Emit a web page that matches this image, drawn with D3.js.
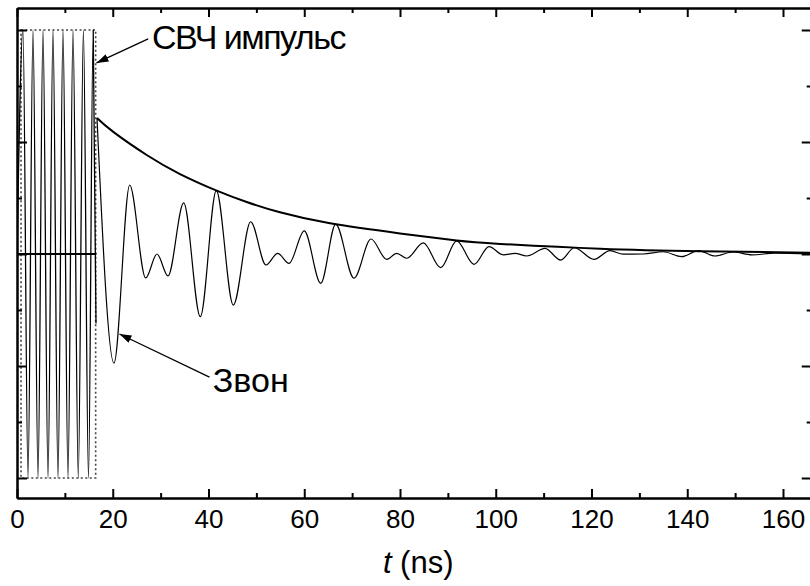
<!DOCTYPE html>
<html>
<head>
<meta charset="utf-8">
<script src="https://cdn.jsdelivr.net/npm/d3@7"></script>
<style>
  body { margin: 0; background: #fff; }
  svg { display: block; font-family: "Liberation Sans", Arial, sans-serif; }
</style>
</head>
<body>
<div id="chart"></div>
<script>
// microwave pulse + ringing, t in ns, amplitude normalised

// x ticks
const xMajor = [0, 20, 40, 60, 80, 100, 120, 140, 160];
const xMinor = [10, 30, 50, 70, 90, 110, 130, 150];
// y ticks (no labels)
const yMajor = [-1, -0.5, 0, 0.5, 1];
const yMinor = [-0.75, -0.25, 0.25, 0.75];

// pulse: peaks / troughs
const pulseT = [0, 1.25, 2.30, 3.34, 4.39, 5.43, 6.48, 7.52, 8.56, 9.61, 10.65, 11.70, 12.80, 13.87, 14.93, 15.92, 16.50];
const pulseV = [0, 1, -1, 1, -1, 1, -1, 1, -1, 1, -1, 1, -1, 1, -1, 1, -0.31];

// ringing after the pulse: extrema
const ringT = [16.71, 20.26, 23.54, 26.88, 29.24, 31.54, 34.82, 38.29, 41.63, 45.18, 48.81, 52.01, 54.45, 56.81,
  60.01, 63.44, 66.57, 70.39, 73.94, 77.22, 79.31, 81.4, 84.87, 88.5, 91.84, 95.46, 98.59, 101.58, 104.02,
  106.46, 110.29, 113.57, 116.41, 120.52, 123.86, 126.64, 130.76, 135.0, 138.84, 142.31, 145.8, 149.55,
  153.5, 158.3, 166];
const ringV = [0.607, -0.487, 0.308, -0.107, 0.0, -0.098, 0.228, -0.280, 0.283, -0.228, 0.144, -0.049, 0.003, -0.042,
  0.103, -0.131, 0.133, -0.108, 0.067, -0.024, 0.003, -0.019, 0.050, -0.061, 0.059, -0.046, 0.033, -0.004, 0.003,
  -0.009, 0.025, -0.027, 0.028, -0.024, 0.015, -0.001, 0.0, 0.010, -0.012, 0.015, -0.009, 0.009,
  -0.004, 0.004, 0];

// envelope (thick line): flat baseline during the pulse, then decay
const envBaseT = [0, 16.6];
const envBaseV = [0, 0];
const envT = [16.71, 20.11, 27.09, 34.05, 41.71, 47.98, 54.93, 65.38, 80.0, 91.84, 100.9, 121.8, 142.7, 166];
const envV = [0.607, 0.545, 0.442, 0.357, 0.283, 0.232, 0.186, 0.137, 0.092, 0.060, 0.045, 0.023, 0.012, 0.006];

// dotted box round the pulse
const boxT = [0.84, 16.43];
const boxV = [-1, 1];

// annotations
const labels = [
  {text: "СВЧ импульс", t: 28.2, v: 0.915, ls: -1.5, from: [27.4, 0.96], to: [16.6, 0.853]},
  {text: "Звон", t: 40.9, v: -0.616, ls: 0, from: [40.2, -0.55], to: [21.4, -0.357]}
];

const W = 810, H = 586;
const pLeft = 17, pTop = 8, pBottom = 498;
const pxPerNs = (783 - 17) / 160;

const x = d3.scaleLinear().domain([0, 166]).range([pLeft, pLeft + 166 * pxPerNs]);
const y = d3.scaleLinear().domain([-1, 1]).range([478, 30]);
const yTopV = y.invert(pTop), yBotV = y.invert(pBottom);
const pRight = x(166);

const svg = d3.select("#chart").append("svg")
  .attr("width", W).attr("height", H);

svg.append("rect").attr("width", W).attr("height", H).attr("fill", "#fff");

const defs = svg.append("defs");
defs.append("clipPath").attr("id", "clip")
  .append("rect").attr("x", pLeft).attr("y", pTop)
  .attr("width", pRight - pLeft).attr("height", pBottom - pTop);
defs.append("marker")
  .attr("id", "arrow")
  .attr("viewBox", "0 0 12 8")
  .attr("refX", 12).attr("refY", 4)
  .attr("markerWidth", 12).attr("markerHeight", 8)
  .attr("markerUnits", "userSpaceOnUse")
  .attr("orient", "auto")
  .append("path").attr("d", "M0,0 L12,4 L0,8 Z").attr("fill", "#000");

const plot = svg.append("g").attr("clip-path", "url(#clip)");

const zip = (ts, vs) => ts.map((t, i) => [t, vs[i]]);
const line = d3.line().x(d => x(d[0])).y(d => y(d[1]));

// dotted box
plot.append("rect")
  .attr("x", x(boxT[0])).attr("y", y(boxV[1]))
  .attr("width", x(boxT[1]) - x(boxT[0]))
  .attr("height", y(boxV[0]) - y(boxV[1]))
  .attr("fill", "none")
  .attr("stroke", "#444")
  .attr("stroke-width", 1.6)
  .attr("stroke-dasharray", "2,2.5");

// pulse
plot.append("path")
  .datum(zip(pulseT, pulseV))
  .attr("d", line.curve(d3.curveMonotoneX))
  .attr("fill", "none").attr("stroke", "#000").attr("stroke-width", 1.3);

// ringing
plot.append("path")
  .datum(zip(ringT, ringV))
  .attr("d", line.curve(d3.curveMonotoneX))
  .attr("fill", "none").attr("stroke", "#000").attr("stroke-width", 1.2);

// envelope
plot.append("path")
  .datum(zip(envBaseT, envBaseV))
  .attr("d", line.curve(d3.curveLinear))
  .attr("fill", "none").attr("stroke", "#000").attr("stroke-width", 2);
plot.append("path")
  .datum(zip(envT, envV))
  .attr("d", line.curve(d3.curveNatural))
  .attr("fill", "none").attr("stroke", "#000").attr("stroke-width", 2);

// axes, ticks pointing inward
function styleAxis(g) {
  g.selectAll(".domain").attr("stroke", "#000").attr("stroke-width", 2);
  g.selectAll(".tick line").attr("stroke", "#000").attr("stroke-width", 2);
}

svg.append("g")
  .attr("transform", `translate(0,${pBottom})`)
  .call(d3.axisBottom(x).tickValues(xMajor).tickSizeInner(-9).tickSizeOuter(0).tickPadding(12))
  .call(styleAxis)
  .call(g => g.selectAll("text").attr("font-size", 26).attr("fill", "#000")
    .attr("font-family", "Liberation Sans, Arial, sans-serif"));
svg.append("g")
  .attr("transform", `translate(0,${pBottom})`)
  .call(d3.axisBottom(x).tickValues(xMinor).tickSizeInner(-5).tickSizeOuter(0).tickFormat(""))
  .call(styleAxis);

svg.append("g")
  .attr("transform", `translate(0,${pTop})`)
  .call(d3.axisTop(x).tickValues(xMajor).tickSizeInner(-9).tickSizeOuter(0).tickFormat(""))
  .call(styleAxis);
svg.append("g")
  .attr("transform", `translate(0,${pTop})`)
  .call(d3.axisTop(x).tickValues(xMinor).tickSizeInner(-5).tickSizeOuter(0).tickFormat(""))
  .call(styleAxis);

const yFull = d3.scaleLinear().domain([yBotV, yTopV]).range([pBottom, pTop]);

svg.append("g")
  .attr("transform", `translate(${pLeft},0)`)
  .call(d3.axisLeft(yFull).tickValues(yMajor).tickSizeInner(-10).tickSizeOuter(0).tickFormat(""))
  .call(styleAxis);
svg.append("g")
  .attr("transform", `translate(${pLeft},0)`)
  .call(d3.axisLeft(yFull).tickValues(yMinor).tickSizeInner(-5).tickSizeOuter(0).tickFormat(""))
  .call(styleAxis);

svg.append("g")
  .attr("transform", `translate(${pRight},0)`)
  .call(d3.axisRight(yFull).tickValues(yMajor).tickSizeInner(-10).tickSizeOuter(0).tickFormat(""))
  .call(styleAxis);
svg.append("g")
  .attr("transform", `translate(${pRight},0)`)
  .call(d3.axisRight(yFull).tickValues(yMinor).tickSizeInner(-5).tickSizeOuter(0).tickFormat(""))
  .call(styleAxis);

// x label
const xl = svg.append("text")
  .attr("x", x(83.8)).attr("y", 573)
  .attr("text-anchor", "middle")
  .attr("font-size", 31);
xl.append("tspan").attr("font-style", "italic").text("t");
xl.append("tspan").text(" (ns)");

// annotations
labels.forEach(d => {
  svg.append("line")
    .attr("x1", x(d.from[0])).attr("y1", y(d.from[1]))
    .attr("x2", x(d.to[0])).attr("y2", y(d.to[1]))
    .attr("stroke", "#000").attr("stroke-width", 1.3)
    .attr("marker-end", "url(#arrow)");
  svg.append("text")
    .attr("x", x(d.t)).attr("y", y(d.v))
    .attr("font-size", 34)
    .attr("letter-spacing", d.ls)
    .text(d.text);
});
</script>
</body>
</html>
